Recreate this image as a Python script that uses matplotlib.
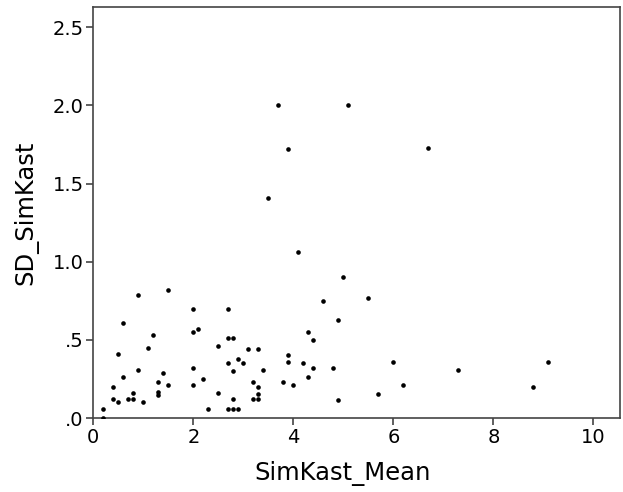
import matplotlib
matplotlib.use("Agg")
import matplotlib.pyplot as plt

# SimKast_Mean vs SD_SimKast
sim_mean = [0.2, 0.2, 0.4, 0.4, 0.5, 0.5, 0.6, 0.6, 0.7, 0.8, 0.8, 0.9, 0.9, 1.0,
            1.1, 1.2, 1.3, 1.3, 1.3, 1.4, 1.5, 1.5,
            2.0, 2.0, 2.1, 2.0, 2.0, 2.2, 2.3, 2.5, 2.5,
            2.7, 2.7, 2.8, 2.7, 2.8, 2.8, 2.7, 2.8, 2.9, 2.9, 3.0,
            3.1, 3.3, 3.2, 3.2, 3.3, 3.3, 3.3, 3.4,
            3.5, 3.7, 3.9, 4.1, 5.1, 6.7,
            3.8, 3.9, 3.9, 4.0, 4.2, 4.3, 4.3, 4.4, 4.4, 4.6, 4.8, 4.9, 4.9, 5.0, 5.5,
            5.7, 6.0, 6.2, 7.3, 8.8, 9.1]
sd_sim = [0.06, 0.0, 0.20, 0.12, 0.10, 0.41, 0.61, 0.26, 0.12, 0.12, 0.16, 0.79, 0.31, 0.10,
          0.45, 0.53, 0.23, 0.165, 0.15, 0.29, 0.82, 0.21,
          0.70, 0.55, 0.57, 0.32, 0.21, 0.25, 0.06, 0.46, 0.16,
          0.70, 0.51, 0.51, 0.35, 0.30, 0.12, 0.06, 0.06, 0.06, 0.38, 0.35,
          0.44, 0.44, 0.23, 0.12, 0.20, 0.155, 0.12, 0.31,
          1.41, 2.0, 1.72, 1.06, 2.0, 1.73,
          0.23, 0.40, 0.36, 0.21, 0.35, 0.553, 0.265, 0.50, 0.32, 0.75, 0.32, 0.626, 0.117, 0.90, 0.765,
          0.155, 0.36, 0.21, 0.31, 0.20, 0.36]

y_ticks = [0.0, 0.5, 1.0, 1.5, 2.0, 2.5]
y_tick_labels = [".0", ".5", "1.0", "1.5", "2.0", "2.5"]
x_ticks = [0, 2, 4, 6, 8, 10]

fig = plt.figure(figsize=(6.23, 4.92), dpi=100)
ax = fig.add_axes([0.1498, 0.1504, 0.8452, 0.8354])
ax.scatter(sim_mean, sd_sim, s=11, color="black", linewidths=0, zorder=3)

ax.set_xlim(0, 10.53)
ax.set_ylim(0, 2.63)
ax.set_xticks(x_ticks)
ax.set_xticklabels([str(t) for t in x_ticks])
ax.set_yticks(y_ticks)
ax.set_yticklabels(y_tick_labels)

for sp in ax.spines.values():
    sp.set_color("#444444")
    sp.set_linewidth(1.2)
ax.tick_params(direction="out", length=5, width=1.2, color="#444444", labelsize=14, pad=2)

ax.set_xlabel("SimKast_Mean", fontsize=17.5, labelpad=10)
ax.xaxis.set_label_coords(0.474, -0.105)
ax.set_ylabel("SD_SimKast", fontsize=17.5, labelpad=10)

fig.savefig("out.png", dpi=100)
